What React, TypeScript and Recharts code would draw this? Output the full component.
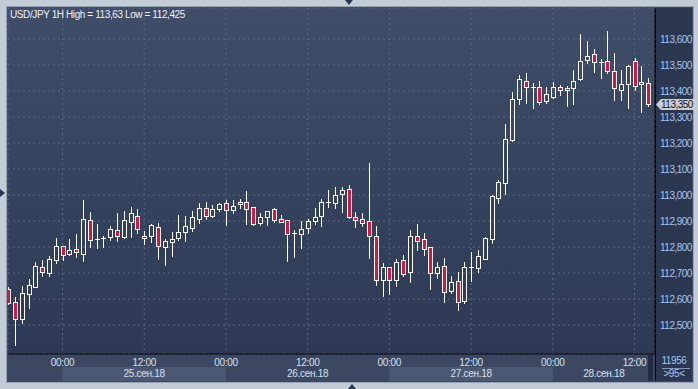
import React from 'react';
import { ComposedChart, Bar, XAxis, YAxis, CartesianGrid, ReferenceLine } from 'recharts';

// USD/JPY 1H, first bar = 24.09.18 16:00, last bar = 28.09.18 14:00
const opens = [
  112.638, 112.587, 112.524, 112.618, 112.647, 112.722, 112.701, 112.751, 112.803, 112.772,
  112.791, 112.772, 112.903, 112.83, 112.833, 112.837, 112.864, 112.84, 112.897, 112.92,
  112.835, 112.841, 112.878, 112.799, 112.818, 112.833, 112.857, 112.872, 112.907, 112.949,
  112.92, 112.945, 112.968, 112.943, 112.964, 112.972, 112.953, 112.891, 112.914, 112.945,
  112.907, 112.903, 112.853, 112.849, 112.872, 112.901, 112.919, 112.972, 112.968, 113.003,
  113.022, 112.915, 112.907, 112.9, 112.842, 112.672, 112.722, 112.674, 112.749, 112.703,
  112.842, 112.83, 112.799, 112.699, 112.726, 112.633, 112.669, 112.591, 112.722, 112.718,
  112.755, 112.832, 112.987, 113.047, 113.213, 113.368, 113.437, 113.417, 113.414, 113.36,
  113.376, 113.414, 113.41, 113.41, 113.445, 113.518, 113.541, 113.51, 113.514, 113.476,
  113.403, 113.426, 113.514, 113.426, 113.43,
];
const highs = [
  112.645, 112.607, 112.649, 112.677, 112.742, 112.75, 112.765, 112.833, 112.805, 112.831,
  112.85, 112.981, 112.933, 112.888, 112.841, 112.881, 112.931, 112.938, 112.953, 112.946,
  112.863, 112.89, 112.891, 112.831, 112.858, 112.923, 112.918, 112.937, 112.97, 112.972,
  112.962, 112.97, 112.982, 112.981, 112.985, 113.015, 112.955, 112.931, 112.938, 112.951,
  112.922, 112.904, 112.864, 112.9, 112.909, 112.95, 112.985, 113.018, 113.031, 113.03,
  113.038, 112.935, 112.931, 113.123, 112.881, 112.738, 112.723, 112.754, 112.769, 112.865,
  112.888, 112.853, 112.8, 112.741, 112.757, 112.688, 112.704, 112.742, 112.781, 112.788,
  112.838, 113.0, 113.058, 113.273, 113.396, 113.462, 113.469, 113.43, 113.438, 113.414,
  113.433, 113.422, 113.418, 113.48, 113.618, 113.592, 113.56, 113.522, 113.63, 113.545,
  113.48, 113.499, 113.526, 113.495, 113.449,
];
const lows = [
  112.58, 112.425, 112.509, 112.567, 112.645, 112.688, 112.69, 112.74, 112.751, 112.77,
  112.763, 112.747, 112.801, 112.797, 112.801, 112.827, 112.824, 112.836, 112.84, 112.853,
  112.813, 112.818, 112.755, 112.733, 112.767, 112.827, 112.822, 112.863, 112.891, 112.907,
  112.917, 112.938, 112.886, 112.932, 112.951, 112.89, 112.885, 112.885, 112.886, 112.895,
  112.896, 112.747, 112.763, 112.797, 112.853, 112.888, 112.882, 112.953, 112.95, 112.936,
  112.913, 112.878, 112.882, 112.757, 112.655, 112.613, 112.618, 112.651, 112.69, 112.667,
  112.79, 112.77, 112.64, 112.682, 112.59, 112.622, 112.558, 112.586, 112.67, 112.704,
  112.754, 112.817, 112.97, 113.005, 113.209, 113.349, 113.353, 113.336, 113.349, 113.353,
  113.372, 113.383, 113.343, 113.351, 113.441, 113.507, 113.474, 113.449, 113.468, 113.364,
  113.364, 113.333, 113.403, 113.318, 113.341,
];
const closes = [
  112.586, 112.524, 112.622, 112.653, 112.726, 112.705, 112.754, 112.803, 112.768, 112.787,
  112.78, 112.907, 112.828, 112.83, 112.833, 112.868, 112.841, 112.903, 112.93, 112.868,
  112.842, 112.883, 112.803, 112.822, 112.83, 112.857, 112.88, 112.914, 112.949, 112.92,
  112.945, 112.964, 112.943, 112.957, 112.973, 112.947, 112.887, 112.914, 112.937, 112.903,
  112.897, 112.849, 112.853, 112.868, 112.899, 112.917, 112.972, 112.972, 113.0, 113.018,
  112.917, 112.903, 112.891, 112.841, 112.674, 112.722, 112.672, 112.741, 112.697, 112.841,
  112.822, 112.791, 112.699, 112.722, 112.626, 112.664, 112.587, 112.722, 112.722, 112.764,
  112.833, 112.996, 113.049, 113.214, 113.368, 113.445, 113.414, 113.417, 113.359, 113.387,
  113.414, 113.403, 113.403, 113.437, 113.514, 113.533, 113.51, 113.51, 113.476, 113.41,
  113.426, 113.495, 113.418, 113.433, 113.35,
];

const timeTicks = [8, 20, 32, 44, 56, 68, 80, 92];
const timeLabels = ['00:00', '12:00', '00:00', '12:00', '00:00', '12:00', '00:00', '12:00'];
const dateTicks = [20, 44, 68, 87.5];
const dateLabels = ['25.сен.18', '26.сен.18', '27.сен.18', '28.сен.18'];
const dateShaded = [true, false, true, false];
const priceTicks = [112.5, 112.6, 112.7, 112.8, 112.9, 113.0, 113.1, 113.2, 113.3, 113.4, 113.5, 113.6];
const lastPrice = 113.35;

const data = opens.map((open, i) => ({
  idx: i,
  open,
  high: highs[i],
  low: lows[i],
  close: closes[i],
  range: [lows[i], highs[i]],
}));

const PLOT_W = 647;
const X_DOMAIN = 95;
const PX_PER_HOUR = PLOT_W / X_DOMAIN;
const FONT = '"Liberation Sans", Arial, sans-serif';

function Candle(props: any) {
  const { x, y, width, height, payload } = props;
  if (payload == null || height == null) return null;
  const { open, close, high, low } = payload;
  const px = Math.round(x + width / 2);
  const cx = px + 0.5;
  const toY = (v: number) => y + ((high - v) / (high - low)) * height;
  const yHigh = Math.round(y) + 0.5;
  const yLow = Math.round(y + height) + 0.5;
  const top = Math.round(toY(Math.max(open, close))) + 0.5;
  const bot = Math.round(toY(Math.min(open, close))) + 0.5;
  const up = close >= open;
  return (
    <g>
      {top > yHigh && <line x1={cx} x2={cx} y1={yHigh - 0.5} y2={top} stroke="#fff" />}
      {yLow > bot && <line x1={cx} x2={cx} y1={bot} y2={yLow + 0.5} stroke="#fff" />}
      {bot - top < 1 ? (
        <line x1={cx - 2.5} x2={cx + 2.5} y1={top} y2={top} stroke="#fff" />
      ) : (
        <rect x={cx - 2} y={top} width={4} height={bot - top} fill={up ? 'none' : '#dc143c'} stroke="#fff" />
      )}
    </g>
  );
}

function DateTick(props: any) {
  const { x, y, payload } = props;
  const i = dateTicks.indexOf(payload.value);
  const half = 12 * PX_PER_HOUR;
  return (
    <g>
      {dateShaded[i] && <rect x={x - half} y={y} width={half * 2} height={14} fill="#4b5874" />}
      <text x={x} y={y + 10} textAnchor="middle" fill="#d6e0ee" fontSize={10} fontFamily={FONT} letterSpacing={-0.3}>
        {dateLabels[i]}
      </text>
    </g>
  );
}

function PriceTag(props: any) {
  const { viewBox } = props;
  if (!viewBox) return null;
  const x = viewBox.x + viewBox.width;
  const y = Math.round(viewBox.y);
  return (
    <g>
      <polygon
        points={`${x + 1},${y + 0.5} ${x + 6},${y - 5} ${x + 42},${y - 5} ${x + 42},${y + 6} ${x + 6},${y + 6}`}
        fill="#c9ced6"
      />
      <text x={x + 6} y={y + 4} fill="#111" fontSize={10} fontFamily={FONT} letterSpacing={-0.5}>
        {lastPrice.toFixed(3).replace('.', ',')}
      </text>
    </g>
  );
}

const abs = (s: React.CSSProperties): React.CSSProperties => ({ position: 'absolute', ...s });

export default function App() {
  return (
    <div style={abs({ left: 0, top: 0, width: 698, height: 389, background: '#c3cbd7', overflow: 'hidden', fontFamily: FONT })}>
      <div style={abs({ left: 7, top: 7, width: 686, height: 375, background: '#3c4862', boxShadow: '0 0 0 1px #97a2b2' })} />
      <div style={abs({ left: 655, top: 8, width: 37, height: 373, background: '#2b3650' })} />
      <div
        style={abs({ left: 8, top: 8, width: 647, height: 346, background: 'linear-gradient(#3f4d68, #2d3955)' })}
      />
      <div style={abs({ left: 648, top: 355, width: 5, height: 26, background: '#222c42' })} />
      <div style={abs({ left: 655, top: 8, width: 1, height: 373, background: '#000' })} />

      <ComposedChart
        width={698}
        height={389}
        data={data}
        margin={{ top: 8, left: 8, right: 6, bottom: 8 }}
        style={{ position: 'absolute', left: 0, top: 0 }}
      >
        <CartesianGrid stroke="#596781" strokeDasharray="2 3" />
        <XAxis
          type="number"
          dataKey="idx"
          domain={[0, X_DOMAIN]}
          allowDataOverflow
          ticks={timeTicks}
          interval={0}
          tickFormatter={(v: number) => timeLabels[timeTicks.indexOf(v)]}
          axisLine={{ stroke: '#000' }}
          tickLine={false}
          tickSize={0}
          tickMargin={5}
          height={13}
          tick={{ fill: '#d6e0ee', fontSize: 10, fontFamily: FONT, letterSpacing: -0.3 }}
        />
        <XAxis
          xAxisId="date"
          type="number"
          dataKey="idx"
          domain={[0, X_DOMAIN]}
          allowDataOverflow
          ticks={dateTicks}
          interval={0}
          axisLine={false}
          tickLine={false}
          tickSize={0}
          tickMargin={0}
          height={14}
          tick={<DateTick />}
        />
        <YAxis
          orientation="right"
          type="number"
          domain={[112.389, 113.719]}
          allowDataOverflow
          ticks={priceTicks}
          interval={0}
          width={37}
          axisLine={{ stroke: '#000' }}
          tickLine={false}
          tickSize={0}
          tickMargin={5}
          tickFormatter={(v: number) => v.toFixed(3).replace('.', ',')}
          tick={{ fill: '#a6c6ee', fontSize: 10, fontFamily: FONT, letterSpacing: -0.5 }}
        />
        <Bar dataKey="range" barSize={5} isAnimationActive={false} shape={(p: any) => <Candle {...p} />} />
        <ReferenceLine y={lastPrice} stroke="none" ifOverflow="visible" label={<PriceTag />} />
      </ComposedChart>

      <div style={abs({ left: 10, top: 9, fontSize: 10, lineHeight: '12px', color: '#eef2f8', letterSpacing: -0.4, whiteSpace: 'nowrap' })}>
        USD/JPY 1H High = 113,63 Low = 112,425
      </div>
      <div style={abs({ left: 656, top: 355, width: 36, textAlign: 'center', fontSize: 10, lineHeight: '12px', color: '#a6c6ee', letterSpacing: -0.4 })}>
        11956
      </div>
      <div style={abs({ left: 662, top: 368, width: 28, height: 1, background: '#7f93b3' })} />
      <div style={abs({ left: 656, top: 368, width: 36, textAlign: 'center', fontSize: 10, lineHeight: '12px', color: '#a6c6ee', letterSpacing: -0.4 })}>
        {'>95<'}
      </div>

      <div style={abs({ left: 345, top: 0, width: 0, height: 0, borderLeft: '4px solid transparent', borderRight: '4px solid transparent', borderTop: '5px solid #2a3550' })} />
      <div style={abs({ left: 0, top: 189, width: 0, height: 0, borderTop: '4px solid transparent', borderBottom: '4px solid transparent', borderLeft: '5px solid #2a3550' })} />
      <div style={abs({ left: 348, top: 384, width: 0, height: 0, borderLeft: '4px solid transparent', borderRight: '4px solid transparent', borderBottom: '5px solid #2a3550' })} />
    </div>
  );
}
